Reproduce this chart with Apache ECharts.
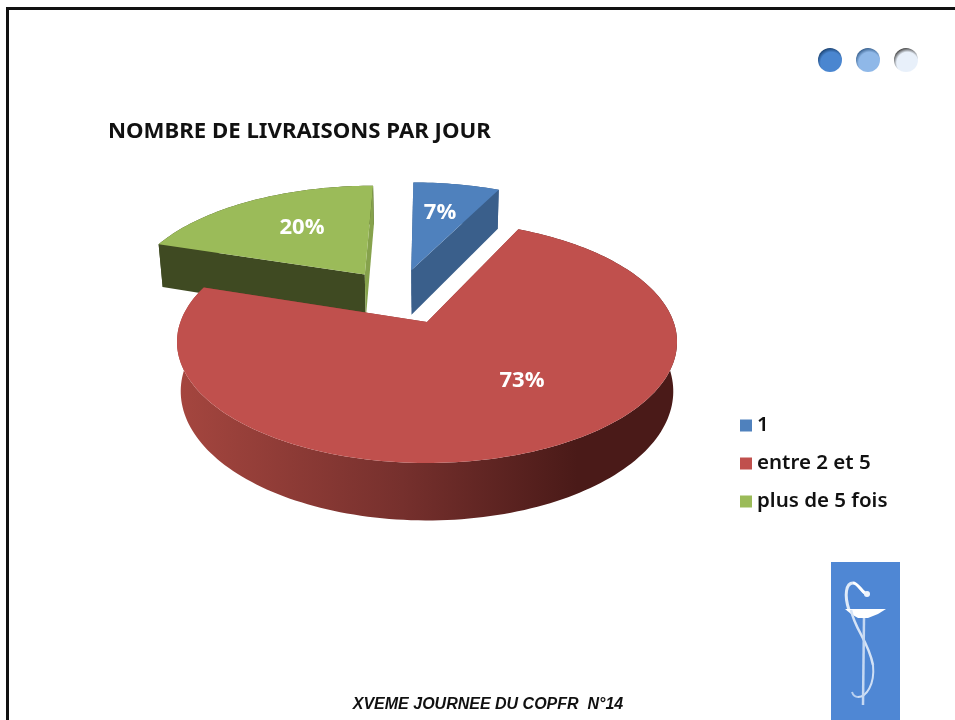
<!DOCTYPE html>
<html>
<head>
<meta charset="utf-8">
<title>Livraisons par jour</title>
<style>
html, body { margin: 0; padding: 0; background: #fff; }
#chart { width: 955px; height: 720px; }
</style>
<script src="https://cdn.jsdelivr.net/npm/echarts@6/dist/echarts.min.js"></script>
</head>
<body>
<div id="chart"></div>
<script>
// values
var categories = ['1', 'entre 2 et 5', 'plus de 5 fois'];
var percents = [7, 73, 20];

// styling, one entry per category
var topColors = ['#4f81bd', '#c0504d', '#9bbb59'];
var wallColors = ['#3a5f8b', '#8c3a37', '#3f4a22'];
var endFaceColors = ['#3a5f8b', '#8c3a37', '#86a24c'];
var layers = [2, 3, 1];               // painter order: green, blue, red
var labelSpots = [[440, 213], [522, 381], [302, 228]];

// fake 3D pie: a disc seen in perspective, red slice tip at origin
var origin = [427, 322];
var radiusX = 246.6, radiusY = 117.7, perspective = 0.165;
var depth = 48, explode = 0.25, sideShift = -0.024, convergence = 0.015;

var total = percents.reduce(function (a, b) { return a + b; }, 0);

function project(X, Y, drop) {
    var s = 1 / (1 - perspective * Y);
    var d = drop || 0;
    return [origin[0] + radiusX * X * s * (1 - convergence * d / depth), origin[1] + (radiusY * Y + d) * s];
}

// start and end angle of a slice, clockwise from 12 o'clock
function sliceAngles(idx) {
    var before = 0;
    for (var i = 0; i < idx; i++) before += percents[i];
    return [before / total * Math.PI * 2, (before + percents[idx]) / total * Math.PI * 2];
}

// every slice is moved along its own bisector, then all are shifted so the red tip stays on origin
function sliceOffset(idx) {
    if (idx === 1) return [0, 0];
    var a = sliceAngles(idx), mid = (a[0] + a[1]) / 2;
    var r = sliceAngles(1), rMid = (r[0] + r[1]) / 2;
    return [explode * (Math.sin(mid) - Math.sin(rMid)) + sideShift, explode * (Math.cos(rMid) - Math.cos(mid))];
}

function arcPoints(idx, drop) {
    var a = sliceAngles(idx), off = sliceOffset(idx), pts = [];
    var steps = Math.max(8, Math.round((a[1] - a[0]) * 40));
    for (var i = 0; i <= steps; i++) {
        var t = a[0] + (a[1] - a[0]) * i / steps;
        pts.push(project(off[0] + Math.sin(t), off[1] - Math.cos(t), drop));
    }
    return pts;
}

function renderSlice(idx) {
    var off = sliceOffset(idx);
    var tip = project(off[0], off[1], 0), tipLow = project(off[0], off[1], depth);
    var top = arcPoints(idx, 0), low = arcPoints(idx, depth);
    var wallFill = wallColors[idx];
    if (idx === 1) {
        wallFill = new echarts.graphic.LinearGradient(0, 0, 1, 0, [
            { offset: 0, color: '#a5463f' },
            { offset: 0.45, color: '#76302d' },
            { offset: 0.8, color: '#4a1a18' },
            { offset: 1, color: '#4a1a18' }
        ]);
    }
    var endTop = top[top.length - 1], endLow = low[low.length - 1];
    var children = [
        { type: 'polygon', shape: { points: top.concat(low.slice().reverse()) }, style: { fill: wallFill } },
        { type: 'polygon', shape: { points: [tip, top[0], low[0], tipLow] }, style: { fill: wallColors[idx] } },
        { type: 'polygon', shape: { points: [tip, endTop, endLow, tipLow] }, style: { fill: endFaceColors[idx] } },
        { type: 'polygon', shape: { points: [tip].concat(top) }, style: { fill: topColors[idx] } },
        {
            type: 'text',
            style: {
                x: labelSpots[idx][0], y: labelSpots[idx][1],
                text: Math.round(percents[idx]) + '%',
                fill: '#fff', font: 'bold 22px "Open Sans"',
                align: 'center', verticalAlign: 'middle'
            }
        }
    ];
    return { type: 'group', children: children };
}

var chart = echarts.init(document.getElementById('chart'));

var series = categories.map(function (name, idx) {
    return {
        name: name,
        type: 'custom',
        coordinateSystem: 'none',
        z: layers[idx],
        silent: true,
        itemStyle: { color: topColors[idx] },
        data: [percents[idx]],
        renderItem: function () { return renderSlice(idx); }
    };
});

function dot(cx, cy, inner, outer) {
    return {
        type: 'circle',
        shape: { cx: cx, cy: cy, r: 12 },
        style: {
            fill: new echarts.graphic.RadialGradient(0.56, 0.62, 0.62, [
                { offset: 0, color: inner },
                { offset: 0.72, color: inner },
                { offset: 1, color: outer }
            ])
        }
    };
}

function curve(x1, y1, cx1, cy1, cx2, cy2, x2, y2, color, width) {
    return {
        type: 'bezierCurve',
        shape: { x1: x1, y1: y1, cpx1: cx1, cpy1: cy1, cpx2: cx2, cpy2: cy2, x2: x2, y2: y2 },
        style: { fill: 'none', stroke: color, lineWidth: width }
    };
}

var option = {
    backgroundColor: '#fff',
    animation: false,
    title: {
        text: 'NOMBRE DE LIVRAISONS PAR JOUR',
        left: 103, top: 116,
        textStyle: { fontFamily: 'Noto Sans', fontWeight: 'bold', fontSize: 22.2, color: '#111' }
    },
    legend: {
        orient: 'vertical',
        left: 735, top: 410,
        itemWidth: 12, itemHeight: 12, itemGap: 17,
        icon: 'rect',
        selectedMode: false,
        data: categories,
        textStyle: { fontFamily: 'Noto Sans', fontWeight: 600, fontSize: 20.5, color: '#111' }
    },
    series: series,
    graphic: [
        { type: 'rect', shape: { x: 6, y: 7, width: 3, height: 713 }, style: { fill: '#111' } },
        { type: 'rect', shape: { x: 6, y: 7, width: 949, height: 3 }, style: { fill: '#111' } },
        dot(830, 60, '#4a86d0', '#1c4474'),
        dot(868, 60, '#8fb8e8', '#3a6290'),
        dot(906, 60, '#e8f0fa', '#4a4a4a'),
        { type: 'rect', shape: { x: 831, y: 562, width: 69, height: 158 }, style: { fill: '#4f87d4' } },
        curve(849, 610, 844, 595, 846, 583, 853, 583, '#dfeaf8', 3),
        curve(853, 583, 858, 583, 860, 590, 866, 594, '#fff', 3),
        { type: 'circle', shape: { cx: 867, cy: 594, r: 3 }, style: { fill: '#eef4fc' } },
        { type: 'polygon', shape: { points: [[845, 609], [886, 609], [878, 614], [868, 618], [858, 618], [851, 614]] }, style: { fill: '#fff' } },
        curve(851, 610, 855, 630, 868, 640, 873, 665, '#d5e3f6', 2.5),
        curve(873, 665, 875, 685, 866, 697, 858, 697, '#cfdff5', 2),
        curve(858, 697, 855, 697, 853, 695, 852, 692, '#b9d0f0', 2),
        { type: 'line', shape: { x1: 864, y1: 618, x2: 863, y2: 705 }, style: { stroke: '#c5d8f2', lineWidth: 2.5 } },
        {
            type: 'text', x: 488, y: 705,
            style: { text: 'XVEME JOURNEE DU COPFR  N°14', font: 'italic bold 16px "Liberation Sans"', fill: '#111', align: 'center', verticalAlign: 'middle' }
        }
    ]
};

chart.setOption(option);
</script>
</body>
</html>
